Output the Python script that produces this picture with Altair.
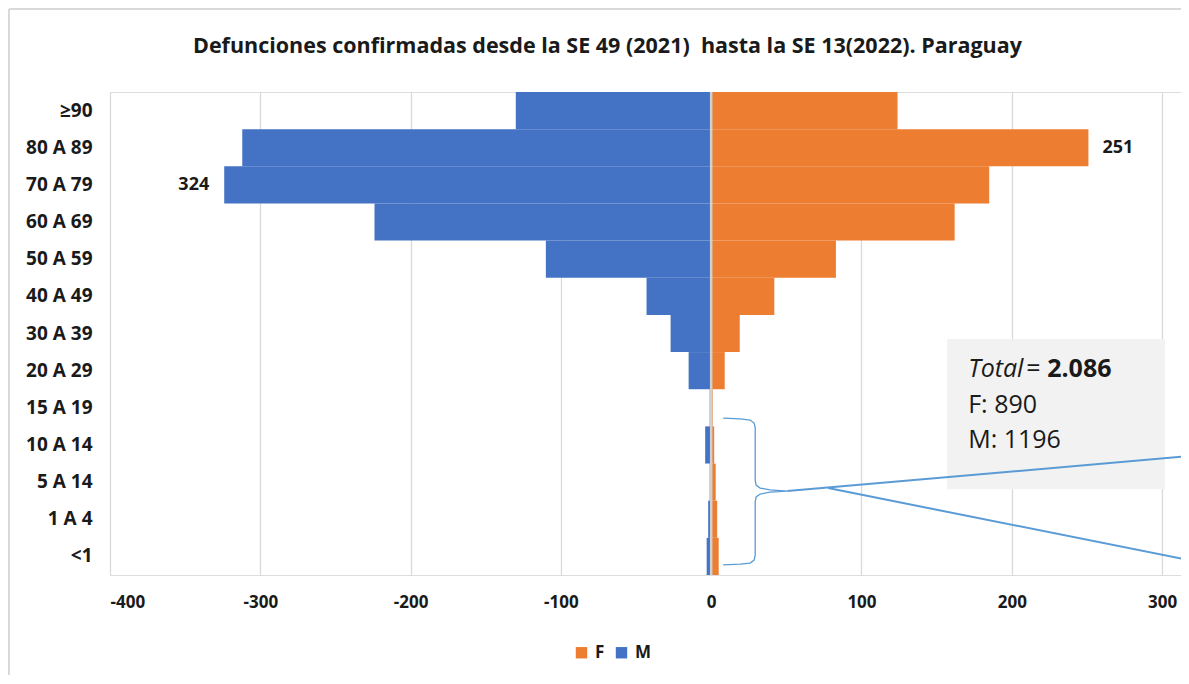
import altair as alt
import pandas as pd

# ---- data ----
groups = ["≥90", "80 A 89", "70 A 79", "60 A 69", "50 A 59", "40 A 49", "30 A 39",
          "20 A 29", "15 A 19", "10 A 14", "5 A 14", "1 A 4", "<1"]
female = [124, 251, 185, 162, 83, 42, 19, 9, 1, 2, 3, 4, 5]
male = [130, 312, 324, 224, 110, 43, 27, 15, 1, 4, 1, 2, 3]
x_ticks = [-400, -300, -200, -100, 0, 100, 200, 300]
title_text = "Defunciones confirmadas desde la SE 49 (2021)\u00a0 hasta la SE 13(2022). Paraguay"
total_all = "2.086"
total_f = "F: 890"
total_m = "M: 1196"

# annotation shapes (data units: x = deaths, y = row index from top)
brace_x = [8.0, 19.3, 25.9, 28.6, 29.3, 29.3, 29.9, 32.6, 39.3, 50.6,
           39.3, 32.6, 29.9, 29.3, 29.3, 28.6, 25.9, 19.3, 8.0]
brace_y = [8.78, 8.80, 8.83, 8.91, 9.04, 10.44, 10.58, 10.66, 10.71, 10.74,
           10.77, 10.82, 10.90, 11.04, 12.46, 12.60, 12.68, 12.71, 12.73]
call_x = [50.6, 318, 77.8, 318]
call_y = [10.74, 9.80, 10.66, 12.60]
call_seg = ["a", "a", "b", "b"]
box_x = [157.0]
box_x2 = [302.0]
box_y = [6.65]
box_y2 = [10.69]
title_x = [-69.0]
title_y = [-1.05]

FONT = "Open Sans"
BLUE = "#4472C4"
ORANGE = "#ED7D31"
INK = "#1a1a1a"
W, H = 1071, 483

rows = []
for g, f, m in zip(groups, female, male):
    rows.append({"group": g, "sex": "F", "value": f, "label": str(f)})
    rows.append({"group": g, "sex": "M", "value": -m, "label": str(m)})
df = pd.DataFrame(rows)

xscale = alt.Scale(domain=[-400, 312.6], nice=False, zero=False)
yband = alt.Scale(domain=groups, paddingInner=0, paddingOuter=0)
yq = alt.Scale(domain=[0, 13], nice=False, zero=False, reverse=True)

bars = alt.Chart(df).mark_bar().encode(
    y=alt.Y("group:N", scale=yband, sort=groups, title=None,
            axis=alt.Axis(domain=False, ticks=False, labelFontSize=19, labelFontWeight="bold",
                          labelFont=FONT, labelColor=INK, labelPadding=18)),
    x=alt.X("value:Q", scale=xscale, stack=None, title=None,
            axis=alt.Axis(values=x_ticks, domain=False, ticks=False, grid=True,
                          gridColor="#d9d9d9", gridWidth=1.3, labelFontSize=17,
                          labelFontWeight="bold", labelFont=FONT, labelColor=INK,
                          labelPadding=19, labelExpr="'' + datum.value")),
    color=alt.Color("sex:N", scale=alt.Scale(domain=["F", "M"], range=[ORANGE, BLUE]),
                    legend=alt.Legend(title=None, orient="none", legendX=463, legendY=552,
                                      direction="horizontal", symbolType="square",
                                      symbolSize=130, symbolStrokeWidth=0,
                                      labelFontSize=17, labelFontWeight="bold",
                                      labelFont=FONT, labelColor=INK,
                                      columnPadding=8, labelOffset=5)),
)

zero = alt.Chart(pd.DataFrame({"z": [0]})).mark_rule(color="#d0d0d0", strokeWidth=2.5).encode(
    x=alt.X("z:Q", scale=xscale)
)

lab_m = alt.Chart(df).transform_filter(
    (alt.datum.group == "70 A 79") & (alt.datum.sex == "M")
).mark_text(align="right", baseline="middle", dx=-15, fontSize=18, fontWeight="bold",
            font=FONT, color=INK).encode(
    x=alt.X("value:Q", scale=xscale), y=alt.Y("group:N", scale=yband, sort=groups),
    text="label:N")
lab_f = alt.Chart(df).transform_filter(
    (alt.datum.group == "80 A 89") & (alt.datum.sex == "F")
).mark_text(align="left", baseline="middle", dx=14, fontSize=18, fontWeight="bold",
            font=FONT, color=INK).encode(
    x=alt.X("value:Q", scale=xscale), y=alt.Y("group:N", scale=yband, sort=groups),
    text="label:N")

base_main = alt.layer(bars, zero, lab_m, lab_f)

# annotation layers (continuous row scale)
box = alt.Chart(pd.DataFrame({"x": box_x, "x2": box_x2, "y": box_y, "y2": box_y2})).mark_rect(
    color="#f2f2f2").encode(
    x=alt.X("x:Q", scale=xscale), x2="x2:Q",
    y=alt.Y("y:Q", scale=yq, axis=None), y2="y2:Q")

brace = alt.Chart(pd.DataFrame({"x": brace_x, "y": brace_y, "o": list(range(len(brace_x)))})).mark_line(
    color="#5B9BD5", strokeWidth=1.3, clip=True).encode(
    x=alt.X("x:Q", scale=xscale), y=alt.Y("y:Q", scale=yq, axis=None), order="o:Q")

callout = alt.Chart(pd.DataFrame({"x": call_x, "y": call_y, "s": call_seg})).mark_line(
    color="#5B9BD5", strokeWidth=2, clip=True).encode(
    x=alt.X("x:Q", scale=xscale), y=alt.Y("y:Q", scale=yq, axis=None), detail="s:N")

txt_base = alt.Chart(pd.DataFrame({"x": [171.0], "y": [7.67]}))
t_total = txt_base.mark_text(align="left", baseline="alphabetic", fontSize=25, fontStyle="italic",
                             font=FONT, color=INK, text="Total").encode(
    x=alt.X("x:Q", scale=xscale), y=alt.Y("y:Q", scale=yq, axis=None))
t_eq = txt_base.mark_text(align="left", baseline="alphabetic", fontSize=25, dx=58,
                          font=FONT, color=INK, text="=").encode(
    x=alt.X("x:Q", scale=xscale), y=alt.Y("y:Q", scale=yq, axis=None))
t_num = txt_base.mark_text(align="left", baseline="alphabetic", fontSize=25, dx=79, fontWeight="bold",
                           font=FONT, color=INK, text=total_all).encode(
    x=alt.X("x:Q", scale=xscale), y=alt.Y("y:Q", scale=yq, axis=None))
t_lines = alt.Chart(pd.DataFrame({"x": [171.0, 171.0], "y": [8.64, 9.58], "t": [total_f, total_m]})).mark_text(
    align="left", baseline="alphabetic", fontSize=25, font=FONT, color=INK).encode(
    x=alt.X("x:Q", scale=xscale), y=alt.Y("y:Q", scale=yq, axis=None), text="t:N")

title = alt.Chart(pd.DataFrame({"x": title_x, "y": title_y})).mark_text(
    align="center", baseline="alphabetic", fontSize=21.5, fontWeight="bold", font=FONT,
    color=INK, text=title_text, clip=False).encode(
    x=alt.X("x:Q", scale=xscale), y=alt.Y("y:Q", scale=yq, axis=None))

# chart-area border (left and top edges)
border_l = alt.Chart(pd.DataFrame({"a": [0]})).mark_rule(color="#d9d9d9", strokeWidth=2, clip=False).encode(
    x=alt.value(-101), y=alt.value(-83), y2=alt.value(H + 110))
border_t = alt.Chart(pd.DataFrame({"a": [0]})).mark_rule(color="#d9d9d9", strokeWidth=2, clip=False).encode(
    x=alt.value(-101), x2=alt.value(W + 20), y=alt.value(-83))

annot = alt.layer(box, brace, callout, t_total, t_eq, t_num, t_lines, title, border_l, border_t)

chart = alt.layer(base_main, annot).resolve_scale(y="independent").properties(
    width=W, height=H,
    autosize=alt.AutoSizeParams(type="none"),
    padding={"left": 102, "top": 84, "right": 0, "bottom": 100},
).configure_view(stroke=None).configure(background="white")

chart.save("out.html", embed_options={"renderer": "svg", "actions": False})
